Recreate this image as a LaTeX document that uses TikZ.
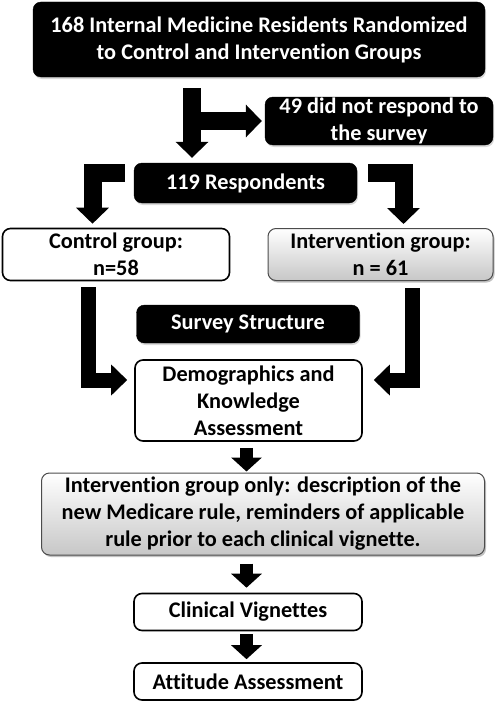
\documentclass[tikz,border=0pt]{standalone}
\usepackage{fontspec}
\setmainfont{Carlito}[Ligatures=NoCommon]
\usetikzlibrary{arrows.meta,shadows,calc}
\begin{document}
\begin{tikzpicture}[x=1pt,y=-1pt,
  font=\fontsize{22.3}{27}\selectfont\bfseries,
  box/.style={rounded corners=8pt, align=center, inner sep=0pt},
  blackbox/.style={box, fill=black, text=white, draw=black,
    drop shadow={shadow xshift=1pt, shadow yshift=-2pt, fill=black!25, opacity=0.6}},
  whitebox/.style={box, fill=white, draw=black, line width=1.6pt},
  graybox/.style={box, draw=black!70, line width=1pt, top color=white, bottom color=black!22,
    drop shadow={shadow xshift=1.5pt, shadow yshift=-2pt, fill=black!40, opacity=0.6}},
  bigarrow/.style={draw=black, line width=18pt, line join=miter, line cap=butt,
    -{Triangle[width=32pt, length=16pt]}},
  midarrow/.style={draw=black, line width=15pt, line join=miter, line cap=butt,
    -{Triangle[width=30pt, length=16pt]}},
  smallarrow/.style={draw=black, line width=13pt, line cap=butt,
    -{Triangle[width=30pt, length=14pt]}},
]
\useasboundingbox (0,0) rectangle (499,701);

\node[blackbox, minimum width=452pt, minimum height=75pt] (top) at (259,39.5)
  {168 Internal Medicine Residents Randomized\\to Control and Intervention Groups};
\node[blackbox, minimum width=228pt, minimum height=48pt] (nr) at (379,121)
  {49 did not respond to\\the survey};
\node[blackbox, minimum width=223pt, minimum height=40pt] (resp) at (245.5,183)
  {119 Respondents};
\node[whitebox, minimum width=227pt, minimum height=52pt] (ctrl) at (116,254.5)
  {Control group:\\n=58};
\node[graybox, minimum width=225pt, minimum height=52pt] (intv) at (380.5,254.5)
  {Intervention group:\\n = 61};
\node[blackbox, minimum width=223pt, minimum height=38pt] (surv) at (248,324)
  {Survey Structure};
\node[whitebox, minimum width=227pt, minimum height=81pt] (demo) at (248.5,400.5)
  {Demographics and\\Knowledge\\Assessment};
\node[graybox, minimum width=443pt, minimum height=82pt] (only) at (263,514)
  {Intervention group only: description of the\\new Medicare rule, reminders of applicable\\rule prior to each clinical vignette.};
\node[whitebox, minimum width=228pt, minimum height=37pt] (cv) at (248,612)
  {Clinical Vignettes};
\node[whitebox, minimum width=228pt, minimum height=37pt] (aa) at (248,681.5)
  {Attitude Assessment};

% connectors
\coordinate (a1) at (192,0);
\draw[bigarrow, shorten <=11pt, shorten >=5pt] (top.south -| a1) -- (resp.north -| a1);
\draw[bigarrow, shorten >=3pt] (a1 |- nr.west) -- (nr.west);

\coordinate (lb) at (0,172.5);
\coordinate (ls) at (92.5,0);
\coordinate (rs) at (403.5,0);
\draw[bigarrow, shorten >=4pt] ([xshift=-9pt]resp.west |- lb) -| (ctrl.north -| ls);
\draw[bigarrow, shorten >=4pt] ([xshift=11pt]resp.east |- lb) -| (intv.north -| rs);

\coordinate (lb2) at (0,380);
\coordinate (ls2) at (88.5,0);
\coordinate (rs2) at (412.5,0);
\draw[midarrow, shorten <=6pt, shorten >=7pt] (ctrl.south -| ls2) |- (demo.west |- lb2);
\draw[midarrow, shorten <=7pt, shorten >=11pt] (intv.south -| rs2) |- (demo.east |- lb2);

\coordinate (cx) at (246.5,0);
\draw[smallarrow, shorten <=6pt, shorten >=1pt] (demo.south -| cx) -- (only.north -| cx);
\draw[smallarrow, shorten <=8pt, shorten >=5pt] (only.south -| cx) -- (cv.north -| cx);
\draw[smallarrow, shorten <=3pt, shorten >=3pt] (cv.south -| cx) -- (aa.north -| cx);
\end{tikzpicture}
\end{document}
